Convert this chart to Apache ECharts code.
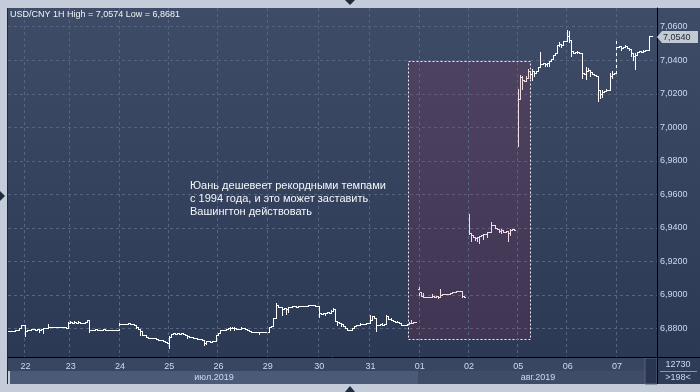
<!DOCTYPE html>
<html><head><meta charset="utf-8">
<script src="https://cdn.jsdelivr.net/npm/echarts@6/dist/echarts.min.js"></script>
<style>html,body{margin:0;padding:0;background:#c3ccd8}#c{width:700px;height:392px}</style>
</head><body><div id="c"></div>
<script>
// ---- data (USD/CNY, hourly bars) ----
const days = ['19','22','23','24','25','26','29','30','31','01','02','05','06','07'];
const barsPerDay = [8,22,24,24,24,24,25,25,24,24,24,24,24,20];
const monthLabels = ['июл.2019','авг.2019'];
const titleText = 'USD/CNY 1H High = 7,0574 Low = 6,8681';
const noteLines = ['Юань дешевеет рекордными темпами','с 1994 года, и это может заставить','Вашингтон действовать'];
const yTicks = [6.88,6.90,6.92,6.94,6.96,6.98,7.00,7.02,7.04,7.06];
const lastPrice = 7.0540;
const cornerTop = '12730', cornerBottom = '>198<';

const closes = [
// 19
6.8781,6.8781,6.8781,6.8791,6.8791,6.8797,6.8815,6.8815,
// 22
6.8785,6.8791,6.8791,6.8794,6.8794,6.8791,6.8794,6.8791,6.8794,6.8797,6.8797,6.8806,6.8803,6.8806,6.8803,6.8803,6.8806,6.8803,6.8803,6.8803,6.8800,6.8830,
// 23
6.8833,6.8831,6.8833,6.8831,6.8833,6.8831,6.8831,6.8836,6.8845,6.8791,6.8791,6.8791,6.8794,6.8791,6.8791,6.8791,6.8794,6.8791,6.8788,6.8791,6.8791,6.8791,6.8791,6.8791,
// 24
6.8821,6.8825,6.8821,6.8825,6.8827,6.8825,6.8821,6.8818,6.8806,6.8794,6.8785,6.8758,6.8758,6.8749,6.8743,6.8743,6.8740,6.8740,6.8734,6.8731,6.8731,6.8725,6.8719,6.8713,
// 25
6.8746,6.8764,6.8773,6.8767,6.8770,6.8767,6.8770,6.8767,6.8761,6.8752,6.8746,6.8746,6.8743,6.8740,6.8737,6.8734,6.8728,6.8713,6.8722,6.8722,6.8719,6.8722,6.8725,6.8761,
// 26
6.8770,6.8788,6.8791,6.8791,6.8794,6.8797,6.8797,6.8797,6.8797,6.8794,6.8794,6.8800,6.8797,6.8794,6.8788,6.8782,6.8779,6.8779,6.8776,6.8776,6.8776,6.8776,6.8779,6.8776,
// 29
6.8779,6.8806,6.8812,6.8857,6.8940,6.8928,6.8925,6.8916,6.8922,6.8913,6.8925,6.8928,6.8931,6.8931,6.8928,6.8934,6.8934,6.8934,6.8934,6.8934,6.8937,6.8937,6.8937,6.8934,6.8931,
// 30
6.8889,6.8883,6.8889,6.8892,6.8895,6.8892,6.8904,6.8913,6.8839,6.8833,6.8827,6.8821,6.8809,6.8797,6.8791,6.8791,6.8800,6.8809,6.8815,6.8818,6.8821,6.8824,6.8821,6.8827,6.8827,
// 31
6.8845,6.8869,6.8857,6.8815,6.8818,6.8821,6.8818,6.8821,6.8869,6.8851,6.8845,6.8839,6.8836,6.8836,6.8830,6.8818,6.8818,6.8818,6.8821,6.8830,6.8830,6.8833,6.8833,null,
// 01
6.9014,6.8993,6.8985,6.8985,6.8985,6.8987,6.8990,6.8987,6.8993,6.8987,6.8999,6.9005,6.9002,6.9005,6.9005,6.9011,6.9014,6.9014,6.9020,6.9023,6.9020,6.8990,6.8984,null,
// 02
6.9364,6.9352,6.9340,6.9337,6.9343,6.9346,6.9355,6.9358,6.9358,6.9370,6.9373,6.9416,6.9413,6.9395,6.9390,6.9376,6.9382,6.9370,6.9376,6.9364,6.9385,6.9388,6.9385,null,
// 05
7.0168,7.0297,7.0280,7.0276,7.0290,7.0330,7.0315,7.0330,7.0320,7.0330,7.0355,7.0375,7.0380,7.0375,7.0383,7.0390,7.0405,7.0430,7.0440,7.0488,7.0495,7.0490,7.0510,7.0512,
// 06
7.0540,7.0520,7.0450,7.0440,7.0445,7.0448,7.0440,7.0320,7.0315,7.0330,7.0340,7.0325,7.0312,7.0310,7.0305,7.0220,7.0195,7.0205,7.0215,7.0220,7.0222,7.0300,7.0312,7.0320,
// 07
7.0478,7.0480,7.0470,7.0476,7.0480,7.0472,7.0466,7.0440,7.0425,7.0430,7.0445,7.0450,7.0448,7.0452,7.0456,7.0458,7.0540,7.0540,null,null
];

// opens after a gap in trading: [bar, open]
const gapOpens = [[200,6.9030],[224,6.9480],[248,6.9885]];

// wicks reaching beyond open/close: [bar, low, high]
const wicks = [
[8,6.8750,null],[15,6.8775,null],[17,6.8770,null],[19,null,6.8825],[29,null,6.8838],
[30,null,6.8839],[32,null,6.8839],[34,null,6.8839],[39,6.8775,null],
[54,null,6.8827],[62,6.8797,null],[64,6.8761,null],
[78,6.8681,6.8752],[79,6.8746,null],[83,null,6.8773],[87,6.8743,null],[95,6.8701,null],[96,6.8704,null],
[108,6.8791,6.8803],[109,null,6.8803],[110,6.8791,6.8803],[113,null,6.8803],[122,6.8767,null],
[130,null,6.8952],[133,6.8880,null],[135,6.8883,null],[136,6.8895,null],
[151,6.8863,null],[154,6.8880,null],[157,null,6.8910],[158,null,6.8918],[160,6.8815,null],[162,6.8809,null],[171,null,6.8827],
[176,null,6.8875],[179,6.8781,null],[182,null,6.8827],[184,null,6.8875],[186,null,6.8857],[189,null,6.8842],[195,null,6.8836],[196,null,6.8845],
[200,6.8990,6.9054],[202,null,6.9010],[206,null,6.9002],[209,6.8981,null],[210,null,6.9034],[221,6.8984,null],
[224,6.9358,6.9482],[225,6.9320,null],[227,6.9325,null],[228,6.9320,null],[229,6.9305,null],[231,6.9330,null],[233,6.9340,null],[235,null,6.9431],[239,6.9370,null],[240,6.9364,6.9388],[243,6.9320,null],[244,6.9355,6.9391],[246,null,6.9391],
[248,6.9885,7.0228],[249,null,7.0306],[250,7.0225,7.0300],[252,null,7.0303],[253,null,7.0343],[254,7.0290,null],[255,7.0280,7.0343],[256,7.0300,null],[259,null,7.0449],[261,7.0365,null],[262,7.0363,null],[263,7.0363,null],[268,7.0480,7.0503],[269,7.0473,null],
[272,7.0510,7.0575],[273,7.0505,7.0570],[274,7.0425,null],[277,7.0438,7.0455],[279,7.0290,null],[281,7.0285,7.0354],[282,null,7.0350],[283,7.0300,null],[287,7.0155,null],[288,7.0170,null],[289,7.0175,7.0220],[291,null,7.0227],[293,null,7.0320],[294,7.0290,7.0330],
[296,7.0320,7.0523],[298,7.0460,null],[300,null,7.0486],[302,7.0460,null],[303,7.0420,null],[304,7.0400,null],[305,7.0345,7.0440],[307,null,7.0455],[309,null,7.0458],[312,7.0458,null]
];

// highlighted region: [first bar, last bar, low, high]
const highlightBox = [[195,253,6.8737,7.0393]];

// ---- build ----
const categories = [];
const dayStart = new Set();
days.forEach((d,k)=>{ dayStart.add(categories.length); for(let h=0;h<barsPerDay[k];h++) categories.push(d+' '+h); });
const openMap = new Map(gapOpens);
const wickMap = new Map(wicks.map(w=>[w[0],w]));
const ohlc = [];
let prev = null;
closes.forEach((c,i)=>{
  if(c==null){ prev=null; return; }
  const o = openMap.has(i) ? openMap.get(i) : (prev!=null ? prev : c);
  let lo = Math.min(o,c), hi = Math.max(o,c);
  const w = wickMap.get(i);
  if(w){ if(w[1]!=null) lo=Math.min(lo,w[1]); if(w[2]!=null) hi=Math.max(hi,w[2]); }
  ohlc.push([i,o,c,lo,hi]);
  prev = c;
});

const fmt = v => v.toFixed(4).replace('.',',');
const FONT = '"Liberation Sans", Arial, sans-serif';
const LBL = '#c9dbf5';
const GRID_LINE = '#566480';
const showDay = i => i>0 && dayStart.has(i);

const chart = echarts.init(document.getElementById('c'), null, {renderer:'canvas', width:700, height:392});
chart.setOption({
  animation:false,
  backgroundColor:'#c3ccd8',
  grid:[
    {left:8, right:43, top:0, bottom:29.97},
    {left:8, right:43, top:8, bottom:35}
  ],
  xAxis:[
    {type:'category', gridIndex:0, data:categories, boundaryGap:true, show:false},
    {type:'category', gridIndex:1, data:categories, boundaryGap:true, z:20,
     axisLine:{show:true, lineStyle:{color:'#000000', width:1}},
     axisTick:{show:false},
     axisLabel:{interval:showDay, formatter:v=>v.split(' ')[0], color:LBL, fontSize:9, fontFamily:FONT, margin:5},
     splitLine:{show:true, interval:showDay, lineStyle:{color:GRID_LINE, type:[3,3], width:1}}}
  ],
  yAxis:[
    {type:'value', gridIndex:0, position:'right', min:6.86, max:7.07592, interval:0.02,
     axisLine:{show:false}, axisTick:{show:false},
     axisLabel:{color:LBL, fontSize:9, fontFamily:FONT, margin:3,
       formatter:v=> yTicks.some(t=>Math.abs(t-v)<1e-6) ? fmt(v) : ''},
     splitLine:{show:true, lineStyle:{color:GRID_LINE, type:[3,3], width:1}}},
    {type:'value', gridIndex:1, position:'right', z:20,
     axisLine:{show:true, lineStyle:{color:'#000000', width:1}},
     axisTick:{show:false}, axisLabel:{show:false}, splitLine:{show:false}}
  ],
  series:[
    {type:'custom', xAxisIndex:0, yAxisIndex:0, z:3, clip:false,
     data:ohlc, encode:{x:0, y:[1,2,3,4]},
     renderItem:(params, api)=>{
       const i = api.value(0);
       const x = Math.round(api.coord([i, api.value(2)])[0] - 0.5);
       const row = v => Math.floor(api.coord([i, v])[1]);
       const yo=row(api.value(1)), yc=row(api.value(2)), yl=row(api.value(3)), yh=row(api.value(4));
       const st = {fill:'#ffffff'};
       return {type:'group', children:[
         {type:'rect', shape:{x:x, y:yh, width:1, height:yl-yh+1}, style:st},
         {type:'rect', shape:{x:x-1, y:yo, width:1, height:1}, style:st},
         {type:'rect', shape:{x:x+1, y:yc, width:1, height:1}, style:st}
       ]};
     }},
    {type:'custom', xAxisIndex:0, yAxisIndex:0, z:6, clip:false,
     data:highlightBox, encode:{x:[0,1], y:[2,3]},
     renderItem:(params, api)=>{
       const half = api.size([1,0])[0]/2;
       const pA = api.coord([api.value(0), api.value(3)]);
       const pB = api.coord([api.value(1), api.value(2)]);
       const x1 = Math.round(pA[0]-half)+0.5, x2 = Math.round(pB[0]+half)+0.5;
       const y1 = Math.round(pA[1])+0.5, y2 = Math.round(pB[1])+0.5;
       return {type:'rect', shape:{x:x1, y:y1, width:x2-x1, height:y2-y1},
         style:{fill:'rgba(170,40,80,0.16)', stroke:'#eeeef4', lineWidth:1, lineDash:[2,2]}};
     }}
  ]
});

// decorations / frame
const lastY = chart.convertToPixel({yAxisIndex:0}, lastPrice);
const ty = Math.round(lastY);
const g = [
  {type:'rect', z:-10, shape:{x:8,y:8,width:692,height:349},
   style:{fill:new echarts.graphic.LinearGradient(0,0,0,1,[{offset:0,color:'#3f4c67'},{offset:1,color:'#2c3954'}])}},
  {type:'rect', z:10, shape:{x:0,y:0,width:700,height:8}, style:{fill:'#c3ccd8'}},
  {type:'rect', z:10, shape:{x:8,y:358,width:650,height:13}, style:{fill:'#394661'}},
  {type:'rect', z:10, shape:{x:10,y:371,width:408,height:13}, style:{fill:'#4b5a76'}},
  {type:'rect', z:10, shape:{x:418,y:371,width:227,height:13}, style:{fill:'#3e4c68'}},
  {type:'rect', z:10, shape:{x:645,y:358,width:12,height:26}, style:{fill:'#2a3650', stroke:'#55627c', lineWidth:1}},
  {type:'rect', z:10, shape:{x:658,y:358,width:42,height:26}, style:{fill:'#2f3c57'}},
  {type:'line', z:11, shape:{x1:660,y1:371.5,x2:697,y2:371.5}, style:{stroke:'#8895ad', lineWidth:1}},
  {type:'line', z:11, shape:{x1:657.5,y1:357,x2:657.5,y2:384}, style:{stroke:'#000', lineWidth:1}},
  {type:'line', z:11, shape:{x1:657,y1:357.5,x2:700,y2:357.5}, style:{stroke:'#000', lineWidth:1}},
  {type:'line', z:11, shape:{x1:7.5,y1:8,x2:7.5,y2:384}, style:{stroke:'#1e2838', lineWidth:1}},
  {type:'text', z:21, style:{text:monthLabels[0], x:214, y:378, fill:LBL, font:'9px '+FONT, align:'center', verticalAlign:'middle'}},
  {type:'text', z:21, style:{text:monthLabels[1], x:538, y:378, fill:LBL, font:'9px '+FONT, align:'center', verticalAlign:'middle'}},
  {type:'text', z:21, style:{text:cornerTop, x:678, y:365, fill:LBL, font:'9px '+FONT, align:'center', verticalAlign:'middle'}},
  {type:'text', z:21, style:{text:cornerBottom, x:678, y:377.5, fill:LBL, font:'9px '+FONT, align:'center', verticalAlign:'middle'}},
  {type:'text', z:21, style:{text:titleText, x:10, y:14.7, fill:'#f2f4f8', font:'9px '+FONT, verticalAlign:'middle'}},
  {type:'polygon', z:21, shape:{points:[[657,ty],[662,ty-6],[698,ty-6],[698,ty+6],[662,ty+6]]}, style:{fill:'#c4cad4'}},
  {type:'text', z:22, style:{text:fmt(lastPrice), x:663, y:ty+0.5, fill:'#1c2533', font:'9px '+FONT, verticalAlign:'middle'}},
  {type:'polygon', z:21, shape:{points:[[345,0],[355,0],[350,5]]}, style:{fill:'#1e2a3e'}},
  {type:'polygon', z:21, shape:{points:[[345,392],[355,392],[350,386]]}, style:{fill:'#1e2a3e'}},
  {type:'polygon', z:21, shape:{points:[[0,191],[0,201],[5,196]]}, style:{fill:'#1e2a3e'}}
];
const noteY = [185.5, 198.7, 211.9];
noteLines.forEach((t,k)=> g.push({type:'text', z:21, style:{text:t, x:190, y:noteY[k], fill:'#f4f6fa', font:'11px '+FONT, verticalAlign:'middle'}}));
chart.setOption({graphic:{elements:g}});
</script>
</body></html>
